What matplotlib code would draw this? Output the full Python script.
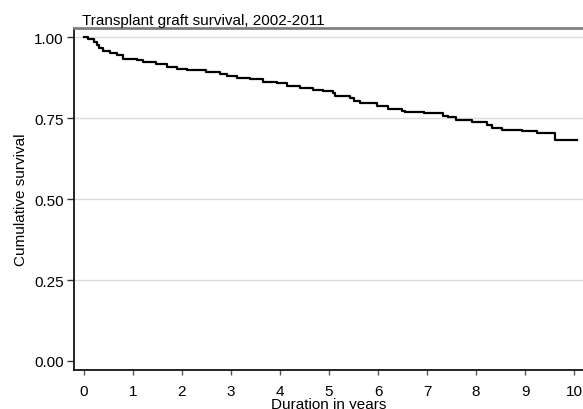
import matplotlib as mpl
mpl.use("Agg")
import matplotlib.pyplot as plt

plt.rcParams.update({"font.family": ["Liberation Sans", "DejaVu Sans"], "font.size": 11})

# Kaplan-Meier step estimates (time in years, survival after step)
times = [0.00, 0.09, 0.20, 0.26, 0.31, 0.39, 0.53, 0.67, 0.80, 1.08, 1.21, 1.48, 1.69, 1.89,
         2.10, 2.50, 2.78, 2.91, 3.12, 3.39, 3.66, 3.93, 4.14, 4.41, 4.68, 4.88, 5.08, 5.12,
         5.43, 5.50, 5.63, 5.97, 6.20, 6.48, 6.55, 6.93, 7.33, 7.42, 7.60, 7.91, 8.22, 8.32,
         8.52, 8.93, 9.24, 9.61, 10.05]
surv = [1.000, 0.994, 0.986, 0.977, 0.968, 0.958, 0.951, 0.944, 0.934, 0.929, 0.922, 0.917, 0.908, 0.903,
        0.898, 0.893, 0.886, 0.879, 0.873, 0.870, 0.863, 0.857, 0.848, 0.842, 0.837, 0.833, 0.827, 0.819,
        0.811, 0.803, 0.798, 0.788, 0.778, 0.773, 0.769, 0.765, 0.757, 0.752, 0.745, 0.737, 0.728, 0.721,
        0.714, 0.709, 0.703, 0.682, 0.682]
xticks = list(range(0, 11))
yticks = [0.00, 0.25, 0.50, 0.75, 1.00]
title = "Transplant graft survival, 2002-2011"

fig = plt.figure(figsize=(5.83, 4.10), dpi=100)
ax = fig.add_axes([0.127, 0.095, 0.873, 0.834])

ax.step(times, surv, where="post", color="black", lw=1.6, zorder=3)

ax.set_xlim(-0.2, 10.18)
ax.set_ylim(-0.028, 1.028)
ax.set_xticks(xticks)
ax.set_yticks(yticks)
ax.set_yticklabels([f"{v:.2f}" for v in yticks])
ax.grid(axis="y", color="#dcdcdc", lw=1.0, zorder=0)
ax.get_ygridlines()[0].set_visible(False)
ax.tick_params(axis="x", length=3.8, width=1, color="#555555", pad=6)
ax.tick_params(axis="y", length=5, width=1, color="#333333", pad=2.5)

ax.spines["right"].set_visible(False)
ax.spines["left"].set_linewidth(1.2)
ax.spines["bottom"].set_linewidth(1.2)
ax.spines["top"].set_color("#808080")
ax.spines["top"].set_linewidth(2.0)

ax.set_xlabel("Duration in years", labelpad=-0.5)
ax.set_ylabel("Cumulative survival", labelpad=4)
ax.text(0.016, 1.004, title, transform=ax.transAxes, ha="left", va="bottom", fontsize=11)

fig.savefig("out.png", dpi=100)
